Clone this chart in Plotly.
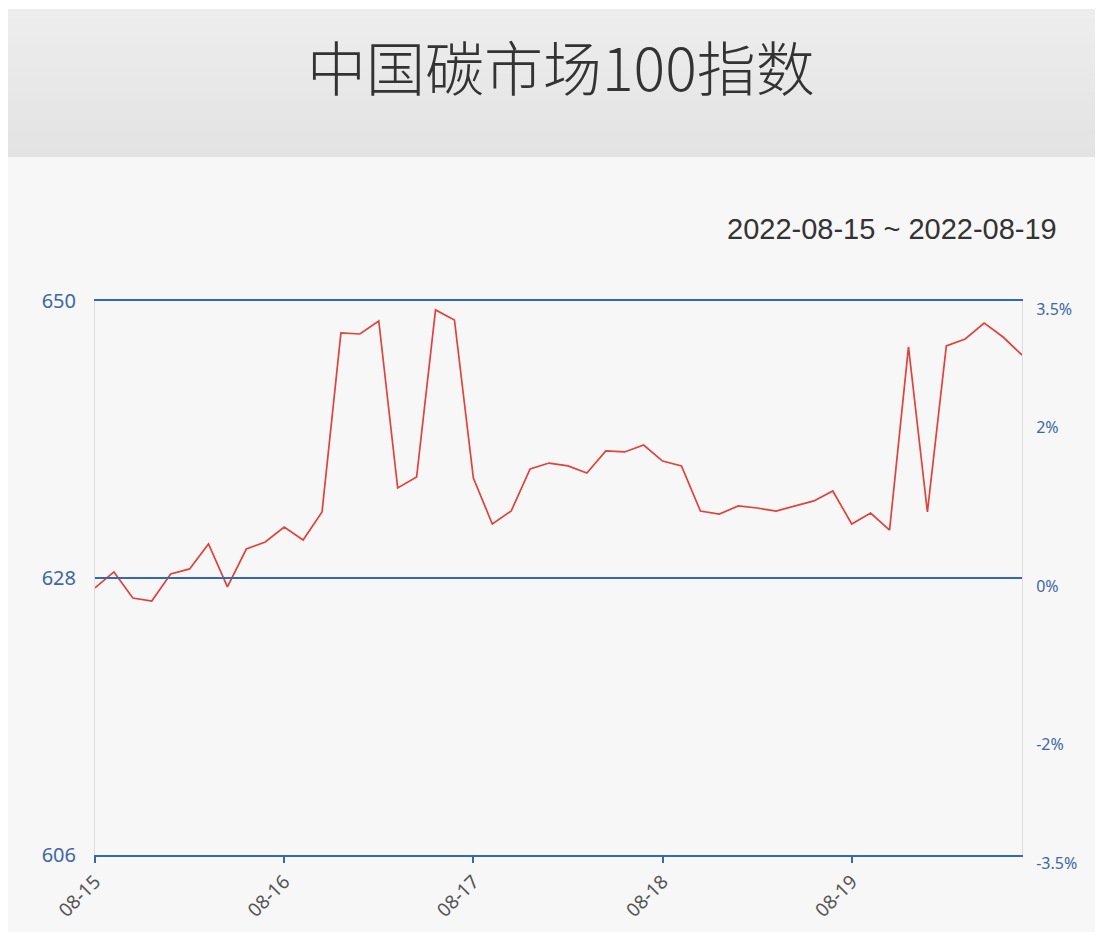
import plotly.graph_objects as go

title_text = "中国碳市场100指数"
date_range_text = "2022-08-15 ~ 2022-08-19"

# 50 intraday samples, 10 per trading day
day_labels = ["08-15", "08-16", "08-17", "08-18", "08-19"]
points_per_day = 10
index_values = [
    627.21, 628.48, 626.41, 626.17, 628.32, 628.72, 630.70, 627.29, 630.30, 630.86,
    632.05, 631.02, 633.24, 647.46, 647.38, 648.41, 635.15, 636.02, 649.29, 648.49,
    635.94, 632.29, 633.32, 636.66, 637.13, 636.90, 636.34, 638.09, 638.01, 638.56,
    637.29, 636.90, 633.32, 633.08, 633.72, 633.56, 633.32, 633.72, 634.12, 634.91,
    632.29, 633.16, 631.81, 646.35, 633.24, 646.43, 646.98, 648.25, 647.14, 645.71,
]
sample_index = list(range(len(index_values)))

left_ticks = [606, 628, 650]
right_ticks = [-3.5, -2, 0, 2, 3.5]
right_tick_labels = ["-3.5%", "-2%", "0%", "2%", "3.5%"]

# the page places the figure 8px in from the window's top-left corner
OFF = 8
W, H = 1103 - 2 * OFF, 942 - 2 * OFF
L, T = 95 - OFF, 301 - OFF
R = W - (1022 - OFF)
B = H - (855 - OFF)
pw, ph = W - L - R, H - T - B

def px_x(p):
    return (p - OFF - L) / pw

def px_y(p):
    return (H - B - (p - OFF)) / ph

blue = "#3467b5"
label_blue = "#3d68a3"

fig = go.Figure()
fig.add_trace(go.Scatter(
    x=sample_index, y=index_values, mode="lines",
    line=dict(color="#e0423c", width=1.7), showlegend=False,
))
# invisible trace to activate the right axis
fig.add_trace(go.Scatter(x=[sample_index[0]], y=[0], yaxis="y2", mode="markers",
                         marker=dict(opacity=0), showlegend=False, hoverinfo="skip"))

shapes = []
# chart panel body
shapes.append(dict(type="rect", xref="paper", yref="paper", layer="below",
                   x0=px_x(OFF), x1=px_x(1103 + OFF), y0=px_y(932), y1=px_y(157),
                   fillcolor="#f7f7f7", line=dict(width=0)))
# header gradient (overlapping bands to avoid seams)
n = 16
top, bot = OFF + 1, 157
c0, c1 = 237, 227
for k in range(n):
    ya = top + (bot - top) * k / n
    c = round(c0 + (c1 - c0) * k / (n - 1))
    shapes.append(dict(type="rect", xref="paper", yref="paper", layer="below",
                       x0=px_x(OFF), x1=px_x(1103 + OFF), y0=px_y(bot), y1=px_y(ya),
                       fillcolor=f"rgb({c},{c},{c})", line=dict(width=0)))
# horizontal reference lines at interior left ticks (edges drawn by the x axis lines)
for v in left_ticks[1:-1]:
    shapes.append(dict(type="line", xref="paper", yref="y", layer="above",
                       x0=0, x1=1, y0=v, y1=v, line=dict(color=blue, width=2.2)))

fig.update_layout(
    width=W, height=H,
    margin=dict(l=L, r=R, t=T, b=B, pad=0),
    paper_bgcolor="white",
    plot_bgcolor="rgba(0,0,0,0)",
    font=dict(family="Noto Sans, Noto Sans CJK SC, sans-serif"),
    shapes=shapes,
    xaxis=dict(
        range=[sample_index[0], sample_index[-1]],
        tickvals=[i * points_per_day for i in range(len(day_labels))],
        ticktext=day_labels,
        tickangle=-45,
        ticks="outside", ticklen=6, tickwidth=1.5, tickcolor=blue,
        showgrid=False, zeroline=False,
        showline=True, mirror=True, linecolor=blue, linewidth=2.2,
        tickfont=dict(size=19, color="#555555", family="Noto Sans"),
    ),
    yaxis=dict(
        range=[left_ticks[0], left_ticks[-1]],
        tickvals=left_ticks,
        showgrid=False, zeroline=False,
        showline=True, linecolor="#dddddd", linewidth=1,
        ticks="", ticklabelstandoff=14,
        tickfont=dict(size=20, color=label_blue, family="Noto Sans"),
    ),
    yaxis2=dict(
        overlaying="y", side="right",
        range=[right_ticks[0], right_ticks[-1]],
        tickvals=right_ticks, ticktext=right_tick_labels,
        showgrid=False, zeroline=False,
        showline=True, linecolor="#dddddd", linewidth=1,
        ticks="", ticklabelstandoff=10, ticklabelshift=8,
        tickfont=dict(size=16, color=label_blue, family="Noto Sans"),
    ),
    annotations=[
        dict(text=title_text, xref="paper", yref="paper",
             x=px_x(561), y=px_y(66), xanchor="center", yanchor="middle",
             showarrow=False,
             font=dict(size=59, color="#333333", family="Noto Sans CJK SC", weight=300)),
        dict(text=date_range_text, xref="paper", yref="paper",
             x=px_x(1059), y=px_y(229), xanchor="right", yanchor="middle",
             showarrow=False,
             font=dict(size=29, color="#333333", family="Liberation Sans, Arial")),
    ],
)

fig.write_html("out.html")
